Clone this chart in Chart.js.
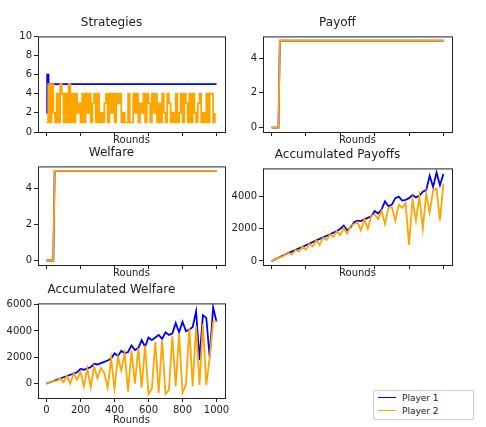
<!DOCTYPE html>
<html><head><meta charset="utf-8">
<script src="https://cdn.jsdelivr.net/npm/chart.js@4"></script>
<style>
body{margin:0;background:#fff;font-family:"DejaVu Sans",sans-serif}
#fig{position:relative;width:486px;height:427px}
canvas{position:absolute}
#legend{position:absolute;left:373px;top:390px;width:99px;height:28px;border:1px solid #ccc;border-radius:2px;font-size:9px;color:#222}
#legend div{display:flex;align-items:center;height:13px;margin-left:4px}
#legend span{display:inline-block;width:18px;height:0;border-top:1.5px solid;margin-right:6px}
</style></head><body>
<div id="fig">
<canvas id="c1"></canvas><canvas id="c2"></canvas><canvas id="c3"></canvas><canvas id="c4"></canvas><canvas id="c5"></canvas>
<div id="legend"><div><span style="border-color:blue"></span>Player 1</div><div><span style="border-color:orange"></span>Player 2</div></div>
</div>
<script>
const rounds20 = [0,20,40,60,80,100,120,140,160,180,200,220,240,260,280,300,320,340,360,380,400,420,440,460,480,500,520,540,560,580,600,620,640,660,680,700,720,740,760,780,800,820,840,860,880,900,920,940,960,980,1000];
const xTicks = [0,200,400,600,800,1000];

const strategyRoundsP1 = [0,4,6,12,1000];
const strategyP1 = [2,6,6,5,5];
const strategyRoundsP2 = [0,10,20,30,40,50,60,70,80,90,100,110,120,130,140,150,160,170,180,190,200,210,220,230,240,250,260,270,280,290,300,310,320,330,340,350,360,370,380,390,400,410,420,430,440,450,460,470,480,490,500,510,520,530,540,550,560,570,580,590,600,610,620,630,640,650,660,670,680,690,700,710,720,730,740,750,760,770,780,790,800,810,820,830,840,850,860,870,880,890,900,910,920,930,940,950,960,970,980,990];
const strategyP2 = [1,5,1,5,2,1,4,1,5,4,1,4,1,5,1,4,1,4,2,3,1,4,1,4,2,4,1,3,4,1,4,1,2,1,3,4,1,4,2,4,1,4,3,4,1,2,1,1,4,1,1,4,2,4,1,3,2,4,1,4,3,1,4,2,4,1,3,1,4,2,1,4,3,1,2,1,4,1,2,4,1,4,3,1,4,1,4,2,1,3,4,1,2,1,4,1,4,4,1,2];

const payoffRounds = [0,40,48,1000];
const payoffP1 = [0,0,5,5];
const payoffP2 = [0,0,5,5];
const welfareP1 = [0,0,5,5];
const welfareP2 = [0,0,5,5];

const accPayoffP1 = [0,100,200,300,400,500,600,690,790,880,980,1080,1180,1280,1370,1470,1560,1660,1760,1860,2000,2200,1900,2100,2400,2500,2480,2580,2680,2780,3100,2950,3200,3700,3400,3500,3900,4000,3750,3800,3900,4100,3950,4050,4300,4400,5300,4600,5500,4700,5400];
const accPayoffP2 = [0,100,190,250,390,480,400,680,600,880,700,1070,900,1270,1000,1450,1300,1650,1500,1850,1600,2050,1700,2200,2300,2400,1900,2600,2000,2800,2900,2600,3100,2300,3300,3350,2500,3500,3300,3600,1000,3800,2500,4000,2000,4200,3000,4400,4500,2500,4800];
const accWelfareP1 = [0,100,190,290,380,480,570,670,760,860,1100,1050,1150,1250,1500,1450,1550,1650,1750,1900,2300,2100,2500,2300,2400,2900,2550,2700,3300,2800,3500,3300,3500,3700,3400,3900,3700,3800,4600,3900,4700,4000,4100,4300,5500,1800,5200,5000,2000,5800,4700];
const accWelfareP2 = [0,100,190,200,380,100,570,0,760,300,900,-200,1150,-300,1300,400,1200,800,-300,1900,-400,2000,1000,2300,-600,2500,0,2700,-300,2900,-800,-400,3200,-700,3300,-800,-500,3600,-200,3800,-700,-100,4200,-200,4400,-100,4500,-100,2000,4700,4800];

const pts = (xs, ys) => xs.map((x, i) => ({x: x, y: ys[i]}));

Chart.defaults.font.family = '"DejaVu Sans", sans-serif';

// box around the plot area, like matplotlib
const frame = {
  id: 'frame',
  afterDraw(chart) {
    const a = chart.chartArea, c = chart.ctx;
    c.save(); c.strokeStyle = '#222'; c.lineWidth = 1;
    c.strokeRect(a.left + 0.5, a.top + 0.5, a.right - a.left, a.bottom - a.top);
    c.restore();
  }
};

function panel(id, box, title, datasets, yMin, yMax, yTicks, showX, stepped) {
  const cv = document.getElementById(id);
  const bottomH = showX ? 28 : 14;
  const left = box.l - 40;
  cv.style.left = left + 'px';
  cv.style.top = (box.t - 26) + 'px';
  cv.width = box.r - left + 8;
  cv.height = box.b - box.t + 26 + bottomH;
  cv.style.width = cv.width + 'px';
  cv.style.height = cv.height + 'px';
  new Chart(cv, {
    type: 'line',
    data: {datasets: datasets.map((d, i) => ({
      data: d.data, borderColor: d.color, borderWidth: 1.8, pointRadius: 0,
      order: 1 - i, stepped: stepped ? 'before' : false, tension: 0
    }))},
    options: {
      responsive: false, animation: false, events: [],
      layout: {padding: {right: 8, top: 0}},
      plugins: {
        legend: {display: false},
        title: {display: true, text: title, color: '#222', font: {size: 12, weight: 'normal'}, padding: {top: 6, bottom: 6}}
      },
      scales: {
        x: {
          type: 'linear', min: -50, max: 1050,
          afterBuildTicks: s => { s.ticks = xTicks.map(v => ({value: v})); },
          afterFit: s => { s.height = bottomH; },
          grid: {drawOnChartArea: false, tickLength: 4, color: '#222'},
          border: {display: false},
          ticks: {color: '#222', font: {size: 10}, padding: 2, maxRotation: 0, callback: v => showX ? String(v) : ''},
          title: {display: true, text: 'Rounds', color: '#222', font: {size: 10}, padding: 0}
        },
        y: {
          min: yMin, max: yMax,
          afterBuildTicks: s => { s.ticks = yTicks.map(v => ({value: v})); },
          afterFit: s => { s.width = 40; },
          grid: {drawOnChartArea: false, tickLength: 4, color: '#222'},
          border: {display: false},
          ticks: {color: '#222', font: {size: 10}, padding: 2, callback: v => String(v)}
        }
      }
    },
    plugins: [frame]
  });
}

panel('c1', {l: 38, r: 225, t: 36, b: 132}, 'Strategies',
  [{data: pts(strategyRoundsP1, strategyP1), color: 'blue'}, {data: pts(strategyRoundsP2, strategyP2), color: 'orange'}],
  0, 10, [0,2,4,6,8,10], false, true);
panel('c2', {l: 263, r: 452, t: 36, b: 132}, 'Payoff',
  [{data: pts(payoffRounds, payoffP1), color: 'blue'}, {data: pts(payoffRounds, payoffP2), color: 'orange'}],
  -0.25, 5.25, [0,2,4], false, false);
panel('c3', {l: 38, r: 225, t: 166, b: 265}, 'Welfare',
  [{data: pts(payoffRounds, welfareP1), color: 'blue'}, {data: pts(payoffRounds, welfareP2), color: 'orange'}],
  -0.25, 5.25, [0,2,4], false, false);
panel('c4', {l: 263, r: 452, t: 168, b: 265}, 'Accumulated Payoffs',
  [{data: pts(rounds20, accPayoffP1), color: 'blue'}, {data: pts(rounds20, accPayoffP2), color: 'orange'}],
  -250, 5750, [0,2000,4000], false, false);
panel('c5', {l: 38, r: 225, t: 303, b: 398}, 'Accumulated Welfare',
  [{data: pts(rounds20, accWelfareP1), color: 'blue'}, {data: pts(rounds20, accWelfareP2), color: 'orange'}],
  -1100, 6100, [0,2000,4000,6000], true, false);
</script>
</body></html>
